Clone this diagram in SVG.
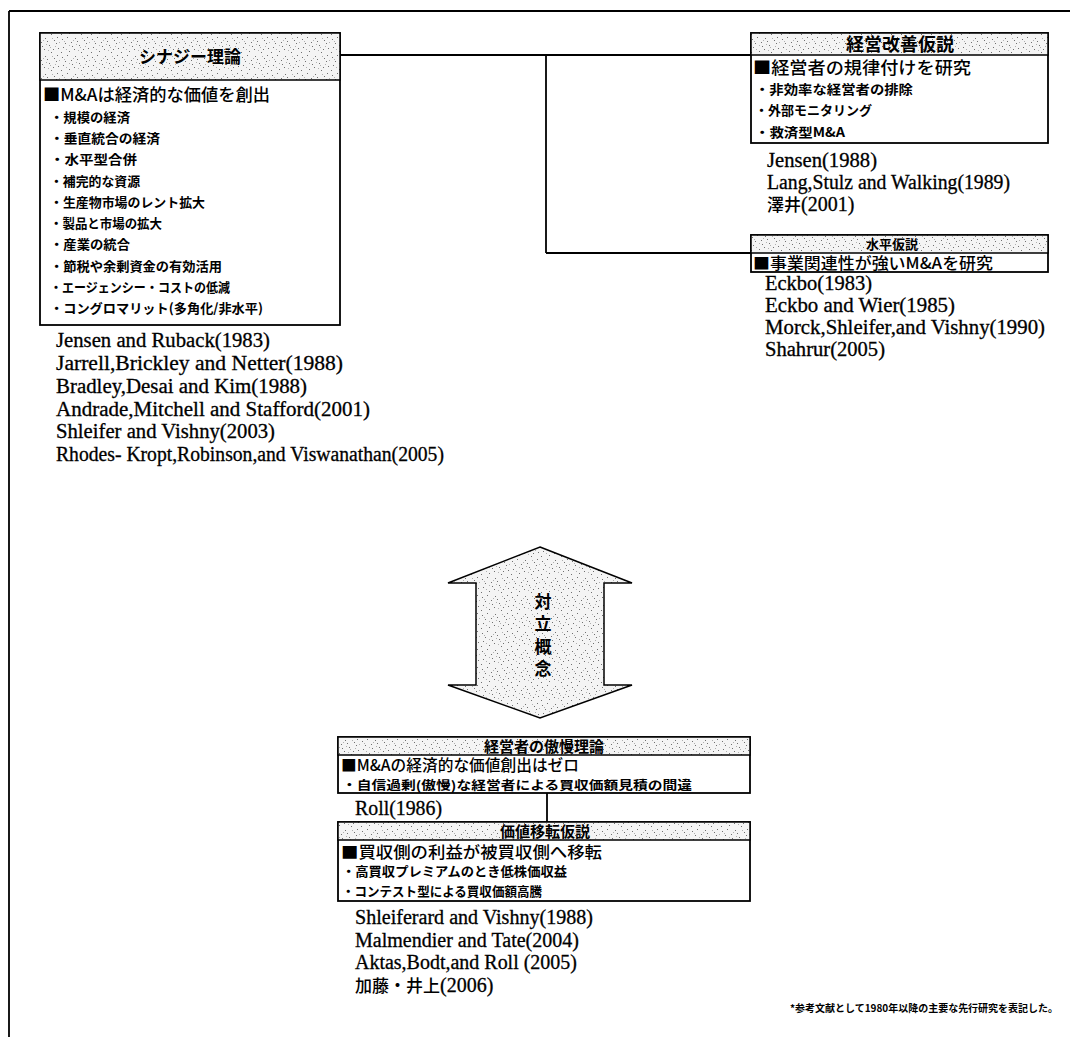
<svg xmlns="http://www.w3.org/2000/svg" width="1070" height="1037" viewBox="0 0 1070 1037">
<defs>
<pattern id="noise" width="30" height="18" patternUnits="userSpaceOnUse">
<rect width="30" height="18" fill="#f4f4f4"/>
<g fill="#707070">
<rect x="2" y="3" width="1" height="1"/><rect x="7" y="1" width="1" height="1"/><rect x="11" y="6" width="1" height="1"/><rect x="15" y="2" width="1" height="1"/><rect x="19" y="9" width="1" height="1"/><rect x="24" y="4" width="1" height="1"/><rect x="28" y="12" width="1" height="1"/><rect x="3" y="11" width="1" height="1"/><rect x="9" y="15" width="1" height="1"/><rect x="14" y="13" width="1" height="1"/><rect x="21" y="16" width="1" height="1"/><rect x="26" y="7" width="1" height="1"/><rect x="5" y="7" width="1" height="1"/><rect x="17" y="5" width="1" height="1"/><rect x="12" y="10" width="1" height="1"/><rect x="23" y="13" width="1" height="1"/><rect x="1" y="16" width="1" height="1"/><rect x="27" y="1" width="1" height="1"/>
</g>
<g fill="#b0b0b0">
<rect x="4" y="5" width="1" height="1"/><rect x="9" y="9" width="1" height="1"/><rect x="13" y="4" width="1" height="1"/><rect x="18" y="14" width="1" height="1"/><rect x="22" y="2" width="1" height="1"/><rect x="25" y="10" width="1" height="1"/><rect x="6" y="13" width="1" height="1"/><rect x="16" y="8" width="1" height="1"/><rect x="29" y="6" width="1" height="1"/><rect x="20" y="11" width="1" height="1"/>
</g>
</pattern>
</defs>
<style>
.box{fill:#fff;stroke:#000;stroke-width:1.8}
.band{fill:url(#noise);stroke:#000;stroke-width:1.5}
.ttl{font-family:"Noto Sans CJK JP",sans-serif;font-weight:700;font-size:17px;text-anchor:middle;fill:#000}
.hd{font-family:"Noto Sans CJK JP",sans-serif;font-weight:500;font-size:17px;fill:#000}
.it{font-family:"Noto Sans CJK JP",sans-serif;font-weight:700;font-size:13px;fill:#000}
.ref{font-family:"Liberation Serif","Noto Sans CJK JP",serif;font-size:20px;fill:#000;stroke:#000;stroke-width:0.3}
.cjk{font-family:"Noto Sans CJK JP",sans-serif;font-size:17px;font-weight:500;stroke-width:0}
.ln{stroke:#000;stroke-width:1.8;fill:none}
.note{font-family:"Noto Sans CJK JP",sans-serif;font-weight:700;font-size:10px;fill:#000}
</style>
<rect width="1070" height="1037" fill="#fff"/>
<g id="frame">
<line class="ln" x1="9" y1="11" x2="1070" y2="11"/>
<line class="ln" x1="9" y1="11" x2="9" y2="1037"/>
</g>
<g id="connectors">
<line class="ln" x1="340" y1="55" x2="751" y2="55"/>
<line class="ln" x1="546" y1="55" x2="546" y2="253"/>
<line class="ln" x1="546" y1="253" x2="751" y2="253"/>
<line class="ln" x1="547" y1="793" x2="547" y2="822"/>
</g>
<g id="synergy">
<rect class="box" x="40" y="33" width="300" height="292"/>
<rect class="band" x="40" y="33" width="300" height="47"/>
<text class="ttl" x="190" y="63">シナジー理論</text>
<text class="hd" x="43" y="101" textLength="227" lengthAdjust="spacingAndGlyphs">■M&amp;Aは経済的な価値を創出</text>
<text class="it" x="50" y="122" textLength="80" lengthAdjust="spacingAndGlyphs">・規模の経済</text>
<text class="it" x="50" y="143" textLength="110" lengthAdjust="spacingAndGlyphs">・垂直統合の経済</text>
<text class="it" x="50" y="164" textLength="87" lengthAdjust="spacingAndGlyphs">・水平型合併</text>
<text class="it" x="50" y="186" textLength="90" lengthAdjust="spacingAndGlyphs">・補完的な資源</text>
<text class="it" x="50" y="207" textLength="155" lengthAdjust="spacingAndGlyphs">・生産物市場のレント拡大</text>
<text class="it" x="50" y="228" textLength="112" lengthAdjust="spacingAndGlyphs">・製品と市場の拡大</text>
<text class="it" x="50" y="249" textLength="80" lengthAdjust="spacingAndGlyphs">・産業の統合</text>
<text class="it" x="50" y="271" textLength="172" lengthAdjust="spacingAndGlyphs">・節税や余剰資金の有効活用</text>
<text class="it" x="50" y="292" textLength="180" lengthAdjust="spacingAndGlyphs">・エージェンシー・コストの低減</text>
<text class="it" x="50" y="313" textLength="213" lengthAdjust="spacingAndGlyphs">・コングロマリット(多角化/非水平)</text>
<text class="ref" x="56" y="347" textLength="214" lengthAdjust="spacingAndGlyphs">Jensen and Ruback(1983)</text>
<text class="ref" x="56" y="370" textLength="287" lengthAdjust="spacingAndGlyphs">Jarrell,Brickley and Netter(1988)</text>
<text class="ref" x="56" y="393" textLength="251" lengthAdjust="spacingAndGlyphs">Bradley,Desai and Kim(1988)</text>
<text class="ref" x="56" y="416" textLength="314" lengthAdjust="spacingAndGlyphs">Andrade,Mitchell and Stafford(2001)</text>
<text class="ref" x="56" y="438" textLength="219" lengthAdjust="spacingAndGlyphs">Shleifer and Vishny(2003)</text>
<text class="ref" x="56" y="461" textLength="388" lengthAdjust="spacingAndGlyphs">Rhodes- Kropt,Robinson,and Viswanathan(2005)</text>
</g>
<g id="management">
<rect class="box" x="751" y="33" width="297" height="110"/>
<rect class="band" x="751" y="33" width="297" height="22"/>
<text class="ttl" x="900" y="50.5" style="font-size:18px">経営改善仮説</text>
<text class="hd" x="753" y="74" textLength="218" lengthAdjust="spacingAndGlyphs">■経営者の規律付けを研究</text>
<text class="it" x="755" y="94" textLength="158" lengthAdjust="spacingAndGlyphs">・非効率な経営者の排除</text>
<text class="it" x="755" y="115" textLength="117" lengthAdjust="spacingAndGlyphs">・外部モニタリング</text>
<text class="it" x="755" y="137" textLength="90" lengthAdjust="spacingAndGlyphs">・救済型M&amp;A</text>
<text class="ref" x="767" y="167" textLength="110" lengthAdjust="spacingAndGlyphs">Jensen(1988)</text>
<text class="ref" x="767" y="189" textLength="243" lengthAdjust="spacingAndGlyphs">Lang,Stulz and Walking(1989)</text>
<text class="ref" x="767" y="211"><tspan class="cjk">澤井</tspan>(2001)</text>
</g>
<g id="horizontal">
<rect class="box" x="751" y="235" width="297" height="37"/>
<rect class="band" x="751" y="235" width="297" height="18"/>
<text class="ttl" x="892" y="248.5" style="font-size:13px">水平仮説</text>
<text class="hd" x="753" y="269" textLength="240" lengthAdjust="spacingAndGlyphs" style="font-size:15.5px">■事業関連性が強いM&amp;Aを研究</text>
<text class="ref" x="765" y="290" textLength="107" lengthAdjust="spacingAndGlyphs">Eckbo(1983)</text>
<text class="ref" x="765" y="312" textLength="190" lengthAdjust="spacingAndGlyphs">Eckbo and Wier(1985)</text>
<text class="ref" x="765" y="334" textLength="280" lengthAdjust="spacingAndGlyphs">Morck,Shleifer,and Vishny(1990)</text>
<text class="ref" x="765" y="356" textLength="120" lengthAdjust="spacingAndGlyphs">Shahrur(2005)</text>
</g>
<g id="opposition">
<polygon points="540,547 632,583 604,583 604,685 632,685 540,718 448,685 476,685 476,583 448,583" fill="url(#noise)" stroke="#000" stroke-width="1.5"/>
<text x="543" y="593" style="font-family:'Noto Sans CJK JP',sans-serif;font-weight:700;font-size:17px;writing-mode:vertical-rl;letter-spacing:5.5px;fill:#000">対立概念</text>
</g>
<g id="hubris">
<rect class="box" x="338" y="737" width="412" height="56"/>
<rect class="band" x="338" y="737" width="412" height="18"/>
<text class="ttl" x="544" y="751.5" style="font-size:15px">経営者の傲慢理論</text>
<text class="hd" x="341" y="771" textLength="238" lengthAdjust="spacingAndGlyphs" style="font-size:15.5px">■M&amp;Aの経済的な価値創出はゼロ</text>
<text class="it" x="342" y="789.5" textLength="350" lengthAdjust="spacingAndGlyphs" style="font-size:12.5px">・自信過剰(傲慢)な経営者による買収価額見積の間違</text>
<text class="ref" x="355" y="815" textLength="87" lengthAdjust="spacingAndGlyphs">Roll(1986)</text>
</g>
<g id="transfer">
<rect class="box" x="338" y="822" width="412" height="79"/>
<rect class="band" x="338" y="822" width="412" height="18"/>
<text class="ttl" x="545" y="836.5" style="font-size:15px">価値移転仮説</text>
<text class="hd" x="341" y="858" textLength="261" lengthAdjust="spacingAndGlyphs" style="font-size:16px">■買収側の利益が被買収側へ移転</text>
<text class="it" x="342" y="876" textLength="225" lengthAdjust="spacingAndGlyphs">・高買収プレミアムのとき低株価収益</text>
<text class="it" x="342" y="896" textLength="200" lengthAdjust="spacingAndGlyphs">・コンテスト型による買収価額高騰</text>
<text class="ref" x="355" y="924" textLength="238" lengthAdjust="spacingAndGlyphs">Shleiferard and Vishny(1988)</text>
<text class="ref" x="355" y="947" textLength="224" lengthAdjust="spacingAndGlyphs">Malmendier and Tate(2004)</text>
<text class="ref" x="355" y="969" textLength="222" lengthAdjust="spacingAndGlyphs">Aktas,Bodt,and Roll (2005)</text>
<text class="ref" x="355" y="992"><tspan class="cjk">加藤・井上</tspan>(2006)</text>
</g>
<g id="footnote">
<text class="note" x="790" y="1012" textLength="268" lengthAdjust="spacingAndGlyphs">*参考文献として1980年以降の主要な先行研究を表記した。</text>
</g>
</svg>
